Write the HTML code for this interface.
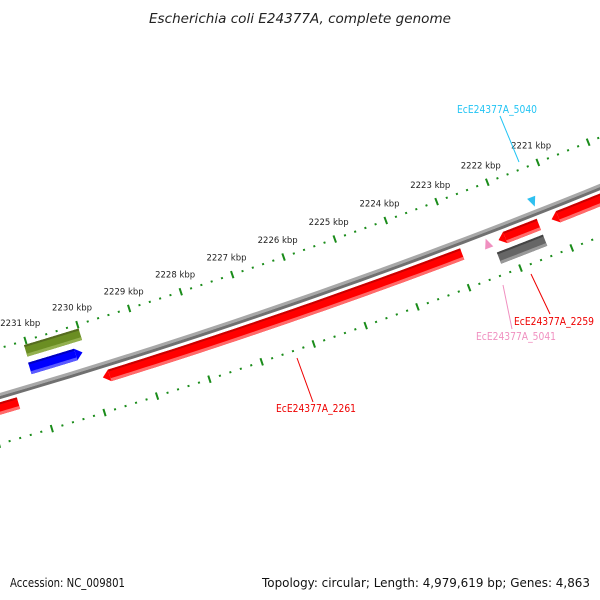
<!DOCTYPE html>
<html><head><meta charset="utf-8"><style>
html,body{margin:0;padding:0;background:#fff;}
svg{display:block;font-family:"DejaVu Sans","Liberation Sans",sans-serif;}
</style></head><body>
<svg id="map" width="600" height="600" viewBox="0 0 600 600" xmlns="http://www.w3.org/2000/svg">
<rect width="600" height="600" fill="#fff"/>
<text x="300" y="23" text-anchor="middle" font-size="13.5" font-style="italic" fill="#222" textLength="302" lengthAdjust="spacingAndGlyphs">Escherichia coli E24377A, complete genome</text>
<g id="ticks"></g>
<g id="backbone"></g>
<g id="genes"></g>
<g id="labels"></g>
<text x="10" y="587" font-size="12.5" fill="#111" textLength="115" lengthAdjust="spacingAndGlyphs">Accession: NC_009801</text>
<text x="262" y="587" font-size="12.5" fill="#111" textLength="328" lengthAdjust="spacingAndGlyphs">Topology: circular; Length: 4,979,619 bp; Genes: 4,863</text>
</svg>
<script>
// data
const majorTicksKbp = [2220,2221,2222,2223,2224,2225,2226,2227,2228,2229,2230,2231,2232,2233];
const tickLabelKbp = [2221,2222,2223,2224,2225,2226,2227,2228,2229,2230,2231];
const geneNames = ["gene-red-left","EcE24377A_2261","EcE24377A_2259-red","gene-red-right","EcE24377A_2259","gene-olive","gene-blue"];
const geneStart = [2231.45, 2222.9, 2221.4, 2219.0, 2221.4, 2230.0, 2230.06];
const geneEnd   = [2233.5, 2229.84, 2222.19, 2221.15, 2222.3, 2231.05, 2231.07];
const geneTrack = [2, 2, 2, 2, 3, 0, 1];
const geneArrow = ["none","start-high","start-high","start-high","none","none","end-low"];
const geneColor = ["red","red","red","red","gray","olive","blue"];
const featureKbp = [2221.35, 2222.4];
const featureNames = ["EcE24377A_5040","EcE24377A_5041"];
const labelText = ["EcE24377A_5040","EcE24377A_2261","EcE24377A_2259","EcE24377A_5041"];

// geometry
const CX=-1766, CY=-5641, T0=1.1929, DK=0.00869;
const R_BB=6290, R_OUT=6244, R_IN=6336, R_LAB=6226;
const trackR=[6254,6272,6302,6319], TW=12;
const palette={red:["#c80000","#ff0000","#ff6a6a"],gray:["#444","#666","#999"],olive:["#556b1f","#6b8e23","#93b04f"],blue:["#0000c0","#0000ff","#5a5aff"]};
function ang(k){return T0+(k-2221)*DK;}
function P(k,r){const a=ang(k);return [CX+r*Math.cos(a),CY+r*Math.sin(a)];}
const NS="http://www.w3.org/2000/svg";
function mk(tag,attrs,parent){const e=document.createElementNS(NS,tag);for(const k in attrs)e.setAttribute(k,attrs[k]);parent.appendChild(e);return e;}
function band(k1,k2,r0,r1){const pts=[];const n=40;for(let i=0;i<=n;i++){pts.push(P(k1+(k2-k1)*i/n,r0));}for(let i=n;i>=0;i--){pts.push(P(k1+(k2-k1)*i/n,r1));}return pts.map(p=>p[0].toFixed(2)+","+p[1].toFixed(2)).join(" ");}

// ticks
const tg=document.getElementById('ticks');
[R_OUT,R_IN].forEach((R)=>{
  for(let t=2219*5;t<=2234*5;t++){
    const k=t/5;const major=(t%5===0);
    const L=major?3.8:1;
    const a=P(k,R-L),b=P(k,R+L);
    const ln=mk('line',{x1:a[0],y1:a[1],x2:b[0],y2:b[1],stroke:"#1a8c1a","stroke-width":2},tg);
    
    
  }
});
tickLabelKbp.forEach(k=>{
  const p=P(k,R_LAB);
  const tx=mk('text',{x:p[0],y:p[1]+3,"text-anchor":"middle","font-size":"8.5",fill:"#222"},tg);
  tx.textContent=k+" kbp";
  
  
});

// backbone
const bb=document.getElementById('backbone');
const b1=mk('polygon',{points:band(2218,2234,R_BB-3,R_BB),fill:"#a8a8a8"},bb);


const b2=mk('polygon',{points:band(2218,2234,R_BB,R_BB+3),fill:"#707070"},bb);



// genes
const gg=document.getElementById('genes');
const AH=0.13;
geneNames.forEach((nm,i)=>{
  const lo=Math.min(geneStart[i],geneEnd[i]), hi=Math.max(geneStart[i],geneEnd[i]);
  const rc=trackR[geneTrack[i]], r0=rc-TW/2, r1=rc+TW/2;
  const col=palette[geneColor[i]];
  const g=mk('g',{},gg);
  
  
  let bl=lo,bh=hi;
  if(geneArrow[i]==="start-high"){bh=hi-AH;}
  if(geneArrow[i]==="end-low"){bl=lo+AH;}
  const pts=band(bl,bh,r0,r1);
  if(geneArrow[i]!=="none"){
    const tipK=geneArrow[i]==="start-high"?hi:lo, baseK=geneArrow[i]==="start-high"?bh:bl;
    const t=P(tipK,rc),a=P(baseK,r0),c=P(baseK,r1);
    const ar=mk('polygon',{points:`${a[0]},${a[1]} ${t[0]},${t[1]} ${c[0]},${c[1]}`,fill:col[1]},g);
    
    
  }
  const body=mk('polygon',{points:pts,fill:col[1]},g);
  
  
  const dk=mk('polygon',{points:band(bl,bh,r0,r0+2),fill:col[0]},g);
  
  
  const lt=mk('polygon',{points:band(bl,bh,r1-3,r1),fill:col[2]},g);
  
  
});
// small features (triangles)
const fc=["#2ec0f0","#f090c0"];
featureKbp.forEach((k,i)=>{
  const out=(i===0);
  const rTip=out?R_BB-6:R_BB+6, rBase=out?R_BB-16:R_BB+16;
  const t=P(k,rTip),a=P(k-0.08,rBase),c=P(k+0.08,rBase);
  const tri=mk('polygon',{points:`${a[0]},${a[1]} ${t[0]},${t[1]} ${c[0]},${c[1]}`,fill:fc[i]},gg);
  
  
});

// labels
const lg=document.getElementById('labels');
const labs=[
 {c:"#22c4f4",x:497,y:113,l:[500,116,519,162]},
 {c:"#ee0000",x:316,y:412,l:[297,358,313,402]},
 {c:"#ee0000",x:554,y:325,l:[531,274,550,314]},
 {c:"#f090c0",x:516,y:340,l:[503,285,512,329]}
];
labs.forEach((o,i)=>{
  const ln=mk('line',{x1:o.l[0],y1:o.l[1],x2:o.l[2],y2:o.l[3],stroke:o.c,"stroke-width":1},lg);
  
  
  const tx=mk('text',{x:o.x,y:o.y,"text-anchor":"middle","font-size":"10.5",fill:o.c,textLength:"80",lengthAdjust:"spacingAndGlyphs"},lg);
  tx.textContent=labelText[i];
  
  
});
</script>
</body></html>
